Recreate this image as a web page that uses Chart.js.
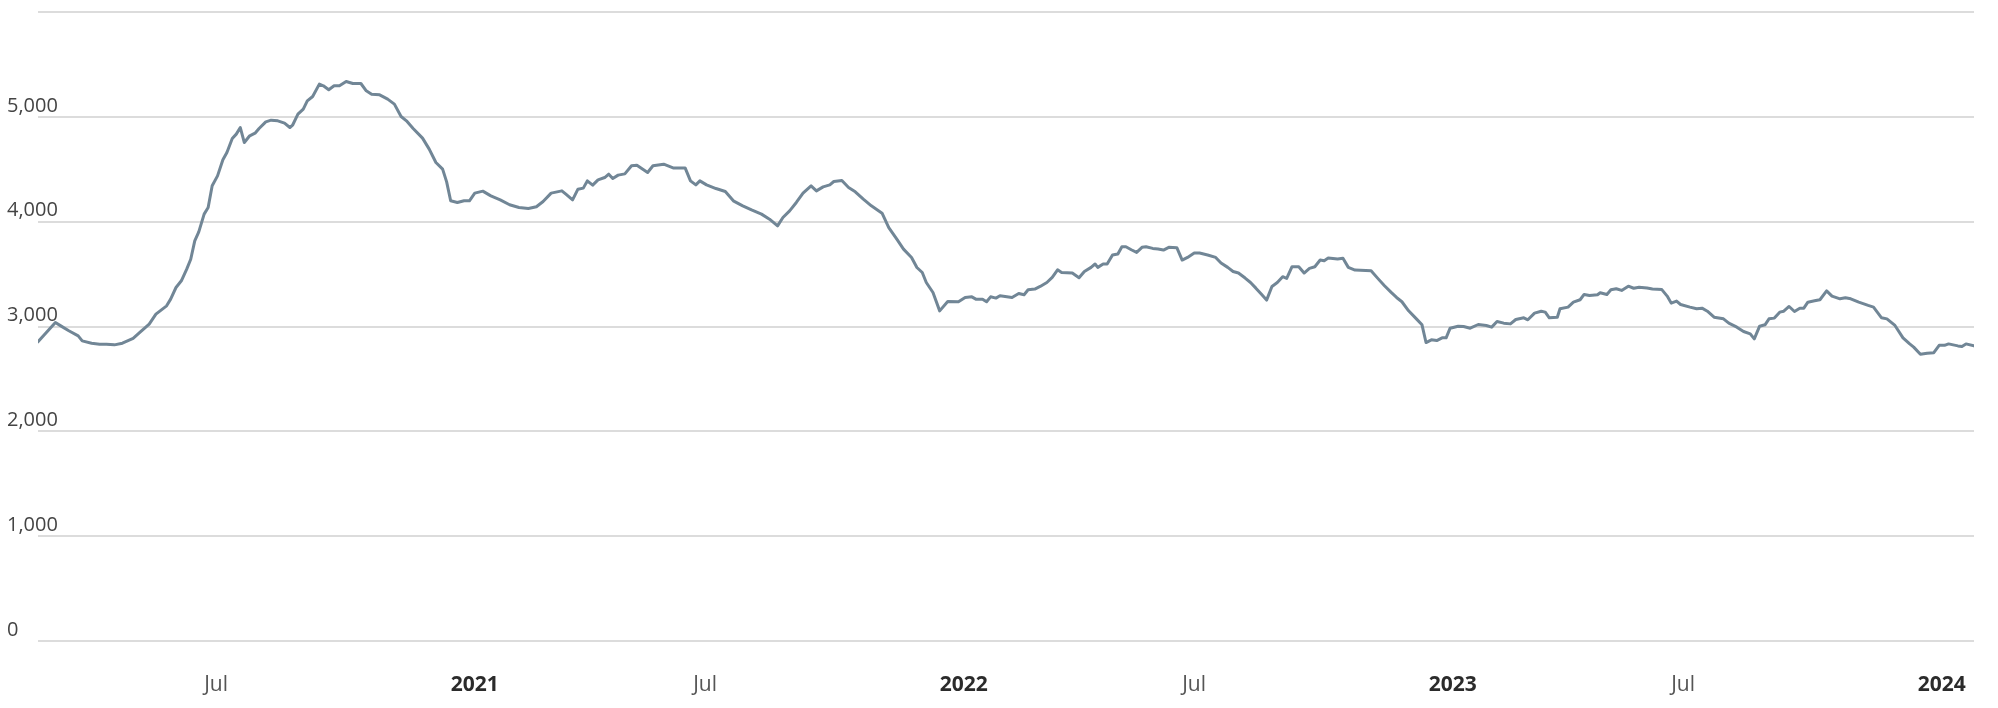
<!DOCTYPE html>
<html>
<head>
<meta charset="utf-8">
<script src="https://cdn.jsdelivr.net/npm/chart.js@4.4.1/dist/chart.umd.min.js"></script>
<style>
html,body{margin:0;padding:0;background:#ffffff;}
#wrap{width:1998px;height:708px;position:relative;}
</style>
</head>
<body>
<div id="wrap"><canvas id="c" width="1998" height="708"></canvas></div>
<script>
// ---- data ----
const startDate = '2020-01-01';
// day offsets from startDate
const dayOffsets = [
  58,71,75,81,88,91,98,104,109,115,121,129,134,141,146,154,157,161,165,169,172,175,178,182,185,188,192,196,199,203,206,209,212,216,220,223,228,232,237,242,246,248,252,256,259,263,268,271,275,279,283,288,293,299,303,307,313,319,324,329,333,338,345,350,355,360,363,366,371,376,380,384,390,396,403,
  410,417,424,430,435,441,449,452,457,461,465,468,472,476,481,484,487,491,496,501,505,513,517,525,532,541,545,549,552,557,564,571,577,584,591,598,604,610,614,619,624,629,635,639,644,649,652,658,663,668,674,680,688,693,699,704,710,714,718,721,726,731,
  737,745,750,755,758,763,766,769,773,776,785,790,794,797,802,806,811,815,819,822,830,835,839,844,847,849,853,856,860,864,867,870,874,878,882,885,890,894,898,902,908,912,916,921,925,931,937,941,946,950,954,959,963,967,971,975,979,983,987,990,994,999,1003,1007,1011,1015,1018,1021,1028,1032,1036,1041,1053,1058,1063,1068,1072,1076,1081,1087,1091,1094,
  1098,1102,1106,1109,1112,1118,1122,1127,1133,1139,1143,1147,1152,1157,1161,1167,1170,1175,1180,1183,1186,1192,1194,1200,1204,1209,1212,1216,1222,1224,1229,1232,1236,1240,1245,1249,1253,1259,1263,1270,1274,1277,1281,1284,1291,1296,1300,1304,1309,1316,1320,1326,1331,1336,1339,1343,1347,1350,1354,1358,1361,1365,1369,1373,1376,1379,1384,1388,1393,1397,1403,1407,1411,1417,1424,1428,1434,1438,1444,1450,1455,1458,1463,1468,1473,1477,1481,1484,1491,1494,1497,1503
];
const values = [
  2854,3038,3006,2959,2911,2863,2841,2831,2831,2825,2841,2886,2943,3022,3118,3197,3261,3372,3436,3547,3642,3817,3903,4072,4135,4342,4437,4590,4660,4793,4835,4898,4755,4819,4844,4889,4952,4968,4962,4940,4898,4920,5025,5073,5152,5194,5312,5296,5258,5296,5296,5337,5318,5318,5248,5216,5210,5169,5121,5003,4962,4889,4797,4692,4564,4501,4380,4199,4183,4199,4199,4272,4291,4246,4208,
  4161,4135,4126,4142,4192,4272,4294,4262,4208,4310,4320,4389,4348,4399,4421,4453,4412,4444,4456,4533,4539,4469,4533,4548,4513,4513,4389,4351,4389,4351,4316,4288,4199,4151,4110,4072,4024,3960,4040,4103,4183,4272,4342,4294,4332,4351,4383,4393,4326,4285,4215,4151,4081,3944,3833,3738,3658,3563,3515,3420,3324,3149,
  3239,3236,3277,3283,3261,3261,3236,3283,3271,3293,3277,3315,3303,3350,3357,3382,3420,3468,3541,3516,3510,3465,3525,3564,3596,3564,3596,3596,3682,3691,3761,3761,3732,3707,3755,3761,3745,3739,3729,3755,3752,3634,3659,3701,3701,3682,3659,3605,3564,3525,3510,3462,3420,3366,3309,3252,3382,3420,3475,3459,3570,3570,3510,3554,3570,3634,3627,3653,3643,3650,3564,3538,3532,3459,3389,3325,3277,3236,3150,3070,3016,2847,
  2873,2866,2892,2892,2984,3003,3000,2984,3019,3010,2994,3048,3032,3025,3067,3083,3064,3127,3146,3137,3083,3089,3169,3185,3232,3255,3306,3296,3303,3322,3306,3350,3360,3344,3385,3365,3375,3368,3358,3352,3290,3223,3242,3210,3185,3169,3175,3146,3089,3073,3032,2994,2952,2930,2882,3003,3016,3073,3080,3137,3146,3191,3143,3175,3175,3232,3245,3255,3340,3290,3264,3274,3264,3232,3201,3185,3083,3073,3010,2892,2834,2803,2735,2745,2750,2820,2820,2834,2815,2810,2834,2815
];
const tickDates = ['2020-07-01','2021-01-01','2021-07-01','2022-01-01','2022-07-01','2023-01-01','2023-07-01','2024-01-01'];
const tickLabels = ['Jul','2021','Jul','2022','Jul','2023','Jul','2024'];
const yTickValues = [0,1000,2000,3000,4000,5000,6000];
const yTickLabels = ['0','1,000','2,000','3,000','4,000','5,000',''];

// ---- build ----
const DAY = 86400000;
const base = Date.parse(startDate + 'T00:00:00Z');
const tickDays = tickDates.map(d => Math.round((Date.parse(d + 'T00:00:00Z') - base) / DAY));
const points = dayOffsets.map((d, i) => ({x: d, y: values[i]}));
const isYear = (lbl) => /^\d{4}$/.test(lbl);

new Chart(document.getElementById('c'), {
  type: 'line',
  data: {
    datasets: [{
      data: points,
      borderColor: '#718696',
      borderWidth: 3,
      pointRadius: 0,
      pointHoverRadius: 0,
      tension: 0,
      fill: false,
      borderJoinStyle: 'round',
      borderCapStyle: 'round'
    }]
  },
  options: {
    responsive: false,
    animation: false,
    devicePixelRatio: 1,
    events: [],
    layout: { padding: { left: 7, right: 24, top: 12, bottom: 11 } },
    plugins: { legend: { display: false }, tooltip: { enabled: false } },
    scales: {
      x: {
        type: 'linear',
        min: dayOffsets[0],
        max: dayOffsets[dayOffsets.length - 1],
        grid: { display: false, drawTicks: false },
        border: { display: false },
        afterBuildTicks: (s) => { s.ticks = tickDays.map(v => ({ value: v })); },
        afterFit: (s) => { s.height = 56; },
        ticks: {
          autoSkip: false,
          maxRotation: 0,
          minRotation: 0,
          align: 'start',
          padding: 31,
          callback: (v) => tickLabels[tickDays.indexOf(v)],
          font: (ctx) => ({
            family: "'Open Sans', 'Noto Sans', sans-serif",
            size: 21,
            weight: (ctx.tick && isYear(ctx.tick.label)) ? 'bold' : 'normal'
          }),
          color: (ctx) => (ctx.tick && isYear(ctx.tick.label)) ? '#2b2b2b' : '#555555'
        }
      },
      y: {
        min: 0,
        max: 6000,
        afterBuildTicks: (s) => { s.ticks = yTickValues.map(v => ({ value: v })); },
        afterFit: (s) => { s.width = 31; },
        grid: { color: '#dcdcdc', lineWidth: 2, drawTicks: false },
        border: { display: false },
        ticks: {
          mirror: true,
          crossAlign: 'near',
          padding: -31,
          labelOffset: -11,
          callback: (v) => yTickLabels[yTickValues.indexOf(v)],
          font: { family: "'Open Sans', 'Noto Sans', sans-serif", size: 20 },
          color: '#444444'
        }
      }
    }
  }
});
</script>
</body>
</html>
